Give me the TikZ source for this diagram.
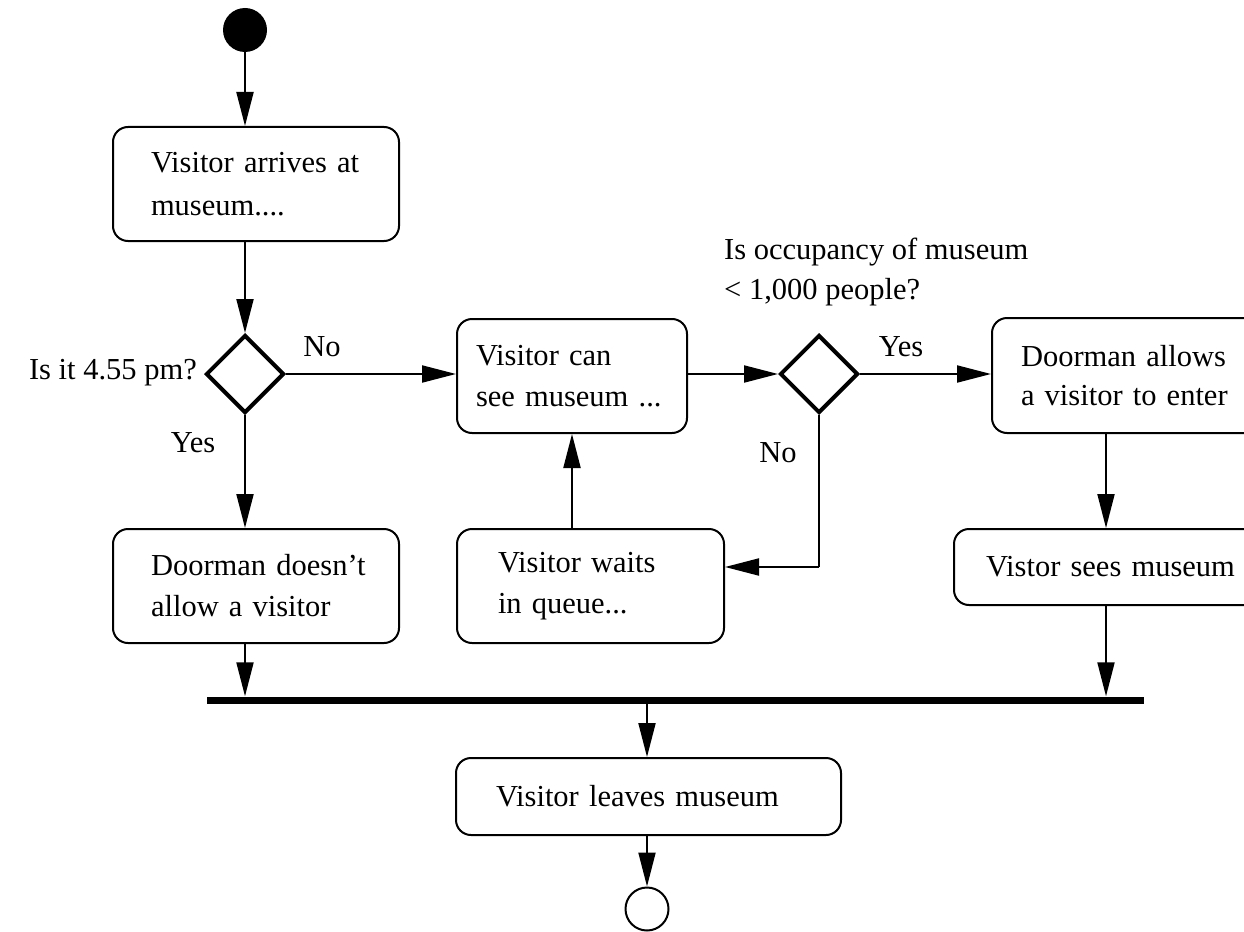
\documentclass[tikz,border=0pt]{standalone}
\usepackage{fontspec}
\setmainfont{Liberation Serif}
\usetikzlibrary{arrows.meta,shapes.geometric}
\begin{document}
\begin{tikzpicture}[x=1pt,y=-1pt,
  font=\fontsize{30.5}{41}\selectfont,
  box/.style={draw, line width=2pt, rounded corners=15pt, anchor=north west, align=left, inner ysep=0pt},
  decision/.style={draw, diamond, aspect=1, line width=4pt, inner sep=0pt, minimum width=78pt, minimum height=78pt},
  arr/.style={line width=2pt, -{Triangle[length=34pt,width=17pt]}},
  lbl/.style={inner sep=0pt}]
\useasboundingbox (0,0) rectangle (1244,931);
\clip (0,0) rectangle (1244,931);

\node[circle, fill=black, minimum size=44pt, inner sep=0pt] (start) at (245,30) {};
\node[box, minimum width=286pt, minimum height=114pt, inner xsep=38pt, text width=210pt,
  font=\fontsize{30.5}{43}\selectfont] (box1) at (112,126)
  {\mbox{Visitor arrives at}\\museum....};
\node[decision] (d1) at (245,374) {};
\node[box, minimum width=230pt, minimum height=114pt, inner xsep=19pt, text width=192pt] (box2) at (456,318)
  {Visitor can\\\mbox{see museum ...}};
\node[decision] (d2) at (819,374) {};
\node[box, minimum width=300pt, minimum height=115pt, inner xsep=29pt, text width=242pt,
  font=\fontsize{30.5}{39}\selectfont] (box3) at (991,317)
  {Doorman allows\\\mbox{a visitor to enter}};
\node[box, minimum width=267pt, minimum height=114pt, inner xsep=41pt, text width=185pt] (box4) at (456,528)
  {Visitor waits\\in queue...};
\node[box, minimum width=286pt, minimum height=114pt, inner xsep=38pt, text width=210pt] (box5) at (112,528)
  {\mbox{Doorman doesn't}\\\mbox{allow a visitor}};
\node[box, minimum width=330pt, minimum height=76pt, inner xsep=32pt, text width=266pt] (box6) at (953,528)
  {\mbox{Vistor sees museum}};
\node[fill=black, inner sep=0pt, minimum width=937pt, minimum height=7pt] (bar) at (675.5,700) {};
\node[box, minimum width=385pt, minimum height=77pt, inner xsep=40pt, text width=305pt] (box7) at (455,757)
  {\mbox{Visitor leaves museum}};
\node[draw, circle, line width=2pt, minimum size=43pt, inner sep=0pt] (end) at (647,909) {};

\node[lbl, anchor=east] (q1) at (197,373) {Is it 4.55 pm?};
\node[lbl] (no1) at (322,347) {No};
\node[lbl] (yes1) at (193,443) {Yes};
\node[lbl] (yes2) at (901,347) {Yes};
\node[lbl] (no2) at (778,453) {No};
\node[lbl, anchor=west, align=left, font=\fontsize{30.5}{40}\selectfont] (q2) at (724,272) {Is occupancy of museum\\< 1,000 people?};

\coordinate (turn) at (819,567);
\coordinate (rc) at (1106,0);

\draw[arr] (start.south) -- (start |- box1.north);
\draw[arr] (d1 |- box1.south) -- (d1.north);
\draw[arr] (d1.east) -- (d1.east -| box2.west);
\draw[arr] (d1.south) -- (d1 |- box5.north);
\draw[arr] (box2.east |- d2.west) -- (d2.west);
\draw[arr] (d2.east) -- (d2.east -| box3.west);
\draw[line width=2pt] (d2.south) -- (turn);
\draw[arr] (turn) -- (turn -| box4.east);
\draw[arr] (box2.south |- box4.north) -- (box2.south);
\draw[arr] (rc |- box3.south) -- (rc |- box6.north);
\draw[arr] (d1 |- box5.south) -- (d1 |- bar.north);
\draw[arr] (rc |- box6.south) -- (rc |- bar.north);
\draw[arr] (end |- bar.south) -- (end |- box7.north);
\draw[arr] (end |- box7.south) -- (end.north);
\end{tikzpicture}
\end{document}
